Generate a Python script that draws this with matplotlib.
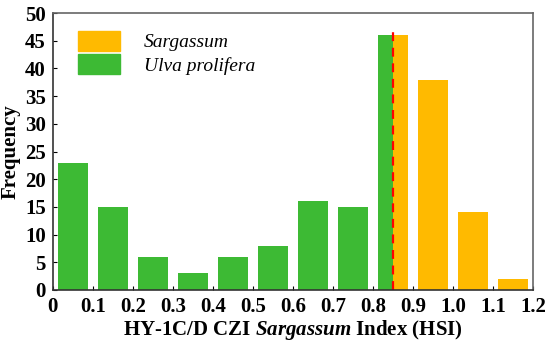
import matplotlib.pyplot as plt
from matplotlib.patches import Patch

plt.rcParams['font.family'] = ['Liberation Serif', 'DejaVu Serif']
plt.rcParams['mathtext.fontset'] = 'custom'
plt.rcParams['mathtext.bfit'] = 'Liberation Serif:italic:bold'
plt.rcParams['mathtext.it'] = 'Liberation Serif:italic:bold'

# Ulva prolifera (green) bins
ulva_left = [0.0125, 0.1125, 0.2125, 0.3125, 0.4125, 0.5125, 0.6125, 0.7125, 0.8125]
ulva_width = [0.075, 0.075, 0.075, 0.075, 0.075, 0.075, 0.075, 0.075, 0.0375]
ulva_freq = [23, 15, 6, 3, 6, 8, 16, 15, 46]

# Sargassum (orange) bins
sarg_left = [0.85, 0.9125, 1.0125, 1.1125]
sarg_width = [0.0375, 0.075, 0.075, 0.075]
sarg_freq = [46, 38, 14, 2]

threshold = 0.85
xticks = [0, 0.1, 0.2, 0.3, 0.4, 0.5, 0.6, 0.7, 0.8, 0.9, 1.0, 1.1, 1.2]
xticklabels = ['0', '0.1', '0.2', '0.3', '0.4', '0.5', '0.6', '0.7', '0.8', '0.9', '1.0', '1.1', '1.2']

green = '#3dba34'
orange = '#ffba00'

fig = plt.figure(figsize=(5.5, 3.44), dpi=100)
ax = fig.add_axes([0.096, 0.157, 0.873, 0.805])

ax.bar(ulva_left, ulva_freq, width=ulva_width, align='edge', color=green)
ax.bar(sarg_left, sarg_freq, width=sarg_width, align='edge', color=orange)
ax.plot([threshold, threshold], [0, 47.5], color='red', ls=(0, (4, 3)), lw=1.6)

ax.set_xlim(0, 1.2)
ax.set_ylim(0, 50)
ax.set_xticks(xticks)
ax.set_xticklabels(xticklabels)
ax.set_yticks(range(0, 51, 5))
ax.tick_params(direction='in', length=3, labelsize=15, width=0.8, pad=5)
for lbl in ax.get_xticklabels() + ax.get_yticklabels():
    lbl.set_fontweight('bold')
for s in ax.spines.values():
    s.set_color('#666666')
    s.set_linewidth(1.2)
ax.spines['bottom'].set_color('#333333')
ax.spines['left'].set_color('#333333')

ax.set_ylabel('Frequency', fontsize=15, fontweight='bold', labelpad=3)
ax.set_xlabel('HY-1C/D CZI $\\mathit{Sargassum}$ Index (HSI)', fontsize=15, fontweight='bold', labelpad=1)

handles = [Patch(color=orange), Patch(color=green)]
ax.legend(handles, ['Sargassum', 'Ulva prolifera'], loc='upper left', frameon=False,
          prop={'style': 'italic', 'size': 14}, handlelength=2.2, handleheight=1.2,
          borderaxespad=0.5, labelspacing=0.15, handletextpad=1.2,
          bbox_to_anchor=(0.015, 1.0))

fig.savefig('out.png', dpi=100)
